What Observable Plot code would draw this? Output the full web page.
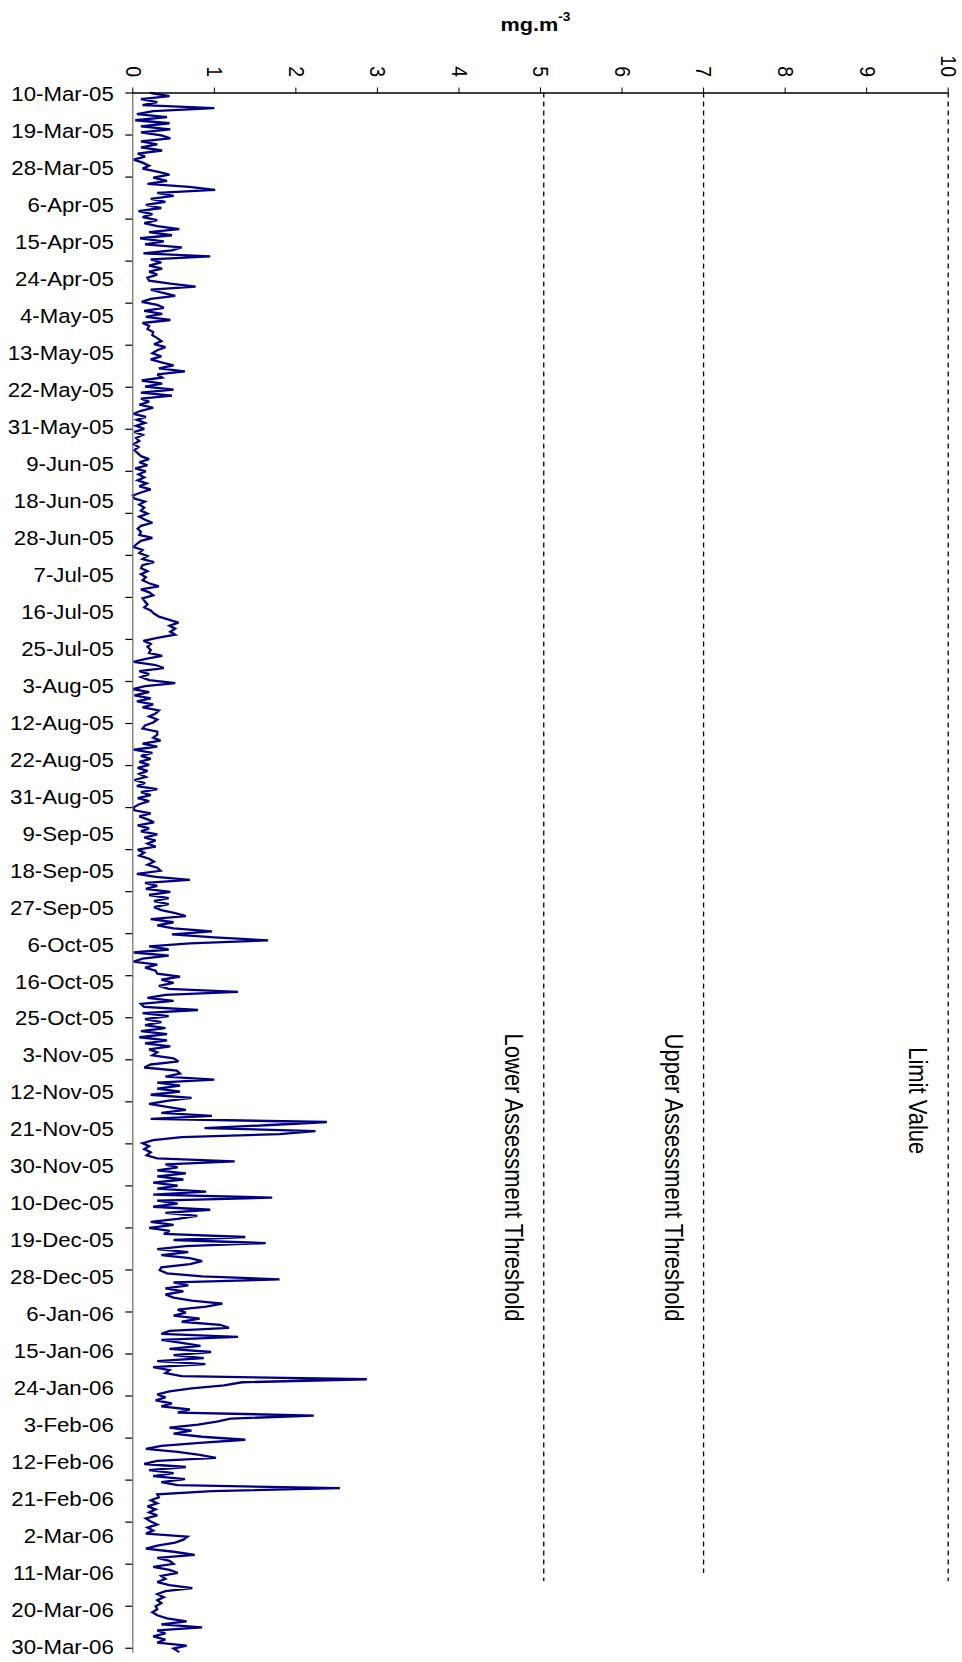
<!DOCTYPE html>
<html><head><meta charset="utf-8">
<script src="https://cdn.jsdelivr.net/npm/d3@7"></script>
<script src="https://cdn.jsdelivr.net/npm/@observablehq/plot@0.6"></script>
<style>body{margin:0;background:#fff;} svg{display:block;}</style>
</head><body><div id="chart"></div>
<script>
// Category-axis labels (one every 220 data rows)
const dateLabels = ["10-Mar-05","19-Mar-05","28-Mar-05","6-Apr-05","15-Apr-05","24-Apr-05","4-May-05","13-May-05","22-May-05","31-May-05","9-Jun-05","18-Jun-05","28-Jun-05","7-Jul-05","16-Jul-05","25-Jul-05","3-Aug-05","12-Aug-05","22-Aug-05","31-Aug-05","9-Sep-05","18-Sep-05","27-Sep-05","6-Oct-05","16-Oct-05","25-Oct-05","3-Nov-05","12-Nov-05","21-Nov-05","30-Nov-05","10-Dec-05","19-Dec-05","28-Dec-05","6-Jan-06","15-Jan-06","24-Jan-06","3-Feb-06","12-Feb-06","21-Feb-06","2-Mar-06","11-Mar-06","20-Mar-06","30-Mar-06"];
const labelStepRows = 220;   // rows between date labels
const tickStepRows = 250;    // rows between tick marks
const sampleStepRows = 18;   // rows between the samples read below
const totalRows = 9280;

const xTicks = [0,1,2,3,4,5,6,7,8,9,10];
const thresholds = [5.04, 7, 10];
const thresholdNames = ["Lower Assessment Threshold","Upper Assessment Threshold","Limit Value"];
const thresholdEndRows = [8853, 8805, 8853];
const thresholdLabelRows = [5594, 5594, 5675];

// CO concentration, mg.m-3
const concMarMay05 = [0.22,0.45,0.1,0.3,0.12,1.0,0.25,0.05,0.42,0.03,
0.45,0.1,0.46,0.1,0.35,0.46,0.1,0.3,0.1,0.36,
0.06,0.15,0.01,0.12,0.2,0.12,0.3,0.45,0.25,0.42,
0.18,0.69,1.01,0.3,0.5,0.22,0.4,0.16,0.35,0.07,
0.24,0.12,0.3,0.14,0.3,0.57,0.2,0.48,0.09,0.38,
0.15,0.6,0.48,0.13,0.95,0.22,0.35,0.2,0.36,0.2,
0.3,0.18,0.2,0.46,0.77,0.22,0.36,0.52,0.22,0.11,
0.3,0.38,0.14,0.36,0.16,0.46,0.12,0.2,0.18,0.25,
0.24,0.3,0.35,0.26,0.4,0.3,0.24,0.35,0.22,0.35,
0.5,0.32,0.64,0.3,0.36,0.11,0.36,0.15,0.5,0.1,
0.48,0.1];
const concMayAug05 = [0.2,0.08,0.25,0.1,0.01,0.16,0.05,0.15,0.04,0.14,
0.02,0.12,0.04,0.08,0.01,0.07,0.02,0.06,0.1,0.2,
0.08,0.18,0.03,0.16,0.07,0.14,0.06,0.17,0.08,0.22,
0.1,0.0,0.02,0.15,0.08,0.14,0.1,0.18,0.08,0.15,
0.24,0.1,0.06,0.1,0.08,0.24,0.1,0.05,0.01,0.12,
0.08,0.18,0.12,0.26,0.12,0.1,0.18,0.1,0.16,0.12,
0.2,0.32,0.1,0.2,0.25,0.12,0.15,0.18,0.14,0.22,
0.26,0.32,0.44,0.56,0.45,0.52,0.46,0.52,0.3,0.13,
0.22,0.18,0.22,0.2,0.36,0.16,0.01,0.28,0.38,0.08,
0.2,0.1,0.2,0.52,0.15,0.0,0.2,0.02,0.22,0.05,
0.25,0.12,0.32];
const concAugOct05 = [0.28,0.2,0.3,0.25,0.15,0.12,0.3,0.3,0.25,0.34,
0.12,0.3,0.01,0.24,0.1,0.22,0.08,0.2,0.06,0.18,
0.08,0.16,0.02,0.15,0.05,0.3,0.1,0.22,0.06,0.2,
0.08,0.01,0.02,0.22,0.08,0.18,0.26,0.06,0.2,0.1,
0.3,0.14,0.28,0.18,0.28,0.06,0.14,0.08,0.2,0.26,
0.18,0.3,0.34,0.05,0.28,0.7,0.15,0.3,0.16,0.46,
0.2,0.44,0.26,0.44,0.26,0.35,0.52,0.65,0.22,0.5,
0.3,0.5,0.97,0.48,1.0,1.66,0.7,0.2,0.44,0.01,
0.44,0.12,0.01,0.3,0.15,0.28,0.3,0.58,0.35,0.5,
0.32,0.44,1.29,0.4,0.18,0.5,0.1,0.14,0.8,0.12,
0.44,0.15];
const concOctJan06 = [0.35,0.15,0.4,0.1,0.42,0.08,0.42,0.15,0.46,0.2,
0.3,0.24,0.5,0.56,0.22,0.14,0.54,0.58,0.4,1.0,
0.3,0.58,0.3,0.58,0.22,0.72,0.42,0.2,0.42,0.65,
0.35,0.97,0.22,2.38,1.69,0.88,2.24,1.8,0.6,0.25,
0.12,0.2,0.14,0.22,0.17,0.3,1.25,0.4,0.55,0.3,
0.65,0.3,0.62,0.25,0.55,0.3,0.9,0.25,1.71,0.3,
0.55,0.25,0.95,0.4,0.79,0.55,0.22,0.5,0.2,0.45,
0.38,1.38,0.5,1.63,0.65,0.3,0.68,0.35,0.7,0.85,
0.7,0.35,0.33,0.42,0.85,1.8,0.5,0.68,0.4,0.62,
0.4,0.5,0.72,1.1,0.9,0.55,0.65,0.5,0.82,0.6,
1.07,1.18];
const concJanMar06 = [0.45,0.35,1.29,0.35,0.6,0.83,0.45,0.96,0.5,0.87,
0.3,0.89,0.25,0.45,0.4,0.6,2.87,1.34,1.12,0.72,
0.45,0.3,0.4,0.28,0.48,0.35,0.7,0.55,2.22,1.2,
1.03,0.8,0.45,0.72,0.5,0.85,1.38,0.82,0.35,0.16,
0.55,0.82,1.02,0.3,0.14,0.65,0.2,0.5,0.25,0.64,
0.35,0.55,2.54,0.97,0.3,0.32,0.22,0.3,0.18,0.28,
0.2,0.3,0.16,0.22,0.3,0.18,0.25,0.16,0.67,0.62,
0.52,0.3,0.16,0.5,0.76,0.3,0.45,0.5,0.25,0.45,
0.55,0.35,0.4,0.3,0.45,0.73,0.4,0.3,0.38,0.3,
0.35,0.28,0.3,0.24,0.3,0.42,0.66,0.35,0.85,0.3,
0.4,0.25,0.4,0.3,0.66,0.5,0.56];

const conc = [...concMarMay05, ...concMayAug05, ...concAugOct05, ...concOctJan06, ...concJanMar06];
const series = conc.map((v, k) => ({row: k * sampleStepRows, v}));
const labelRows = dateLabels.map((_, i) => i * labelStepRows);
const tickRows = d3.range(0, totalRows, tickStepRows);
const thr = thresholds.map((x, i) => ({x, name: thresholdNames[i], end: thresholdEndRows[i], lab: thresholdLabelRows[i]}));

const SX = 1.14; // horizontal stretch of the original picture's lettering

const chart = Plot.plot({
  width: 962, height: 1662,
  marginLeft: 132.3, marginRight: 14.3, marginTop: 92.5, marginBottom: 9.2,
  style: {fontFamily: "'Liberation Sans', Arial, sans-serif", fontSize: "19px", color: "#000", background: "#fff"},
  x: {domain: [0, 10]},
  y: {domain: [0, totalRows], reverse: true},
  marks: [
    Plot.ruleX(thr, {x: "x", y1: 0, y2: "end", stroke: "#000", strokeWidth: 1.3, strokeDasharray: "5,4"}),
    Plot.text(thr, {x: "x", y: "lab", text: "name", rotate: 90, textAnchor: "start", dx: -31, fontSize: 22, fill: "#000"}),
    Plot.line(series, {x: "v", y: "row", stroke: "#000080", strokeWidth: 2.3, strokeLinejoin: "miter", strokeMiterlimit: 3}),
    Plot.ruleX([0], {stroke: "#777", strokeWidth: 1.3}),
    Plot.ruleY([0], {stroke: "#000", strokeWidth: 1.3}),
    Plot.axisY(tickRows, {tickSize: 7, tickFormat: () => "", label: null, stroke: "#000", strokeWidth: 1.2}),
    Plot.axisY(labelRows, {tickSize: 0, tickPadding: 19, tickFormat: d => dateLabels[Math.round(d / labelStepRows)], label: null, fontSize: 19.5, dy: 1.5}),
    Plot.axisX(xTicks, {anchor: "top", tickSize: 6, tickPadding: 10, tickRotate: 90, label: null, fontSize: 19.5}),
    Plot.text(["mg.m"], {frameAnchor: "top-left", dx: 367.7, dy: -61.8, lineAnchor: "bottom", textAnchor: "start", fontWeight: "bold", fontSize: 19}),
    Plot.text(["-3"], {frameAnchor: "top-left", dx: 425.5, dy: -72, lineAnchor: "bottom", textAnchor: "start", fontWeight: "bold", fontSize: 12})
  ]
});

// stretch all lettering horizontally about its anchor, as in the picture
chart.querySelectorAll("text").forEach(t => {
  const tr = t.getAttribute("transform") || "";
  const m = tr.match(/^\s*translate\(\s*([-\d.e]+)[ ,]+([-\d.e]+)\s*\)(.*)$/);
  if (m) {
    t.setAttribute("transform", `translate(${m[1]},${m[2]}) scale(${SX},1)${m[3]}`);
  } else {
    const x = +(t.getAttribute("x") || 0), y = +(t.getAttribute("y") || 0);
    t.removeAttribute("x"); t.removeAttribute("y");
    t.setAttribute("transform", `translate(${x},${y}) scale(${SX},1) ${tr}`);
  }
});
document.getElementById("chart").append(chart);
</script>
</body></html>
